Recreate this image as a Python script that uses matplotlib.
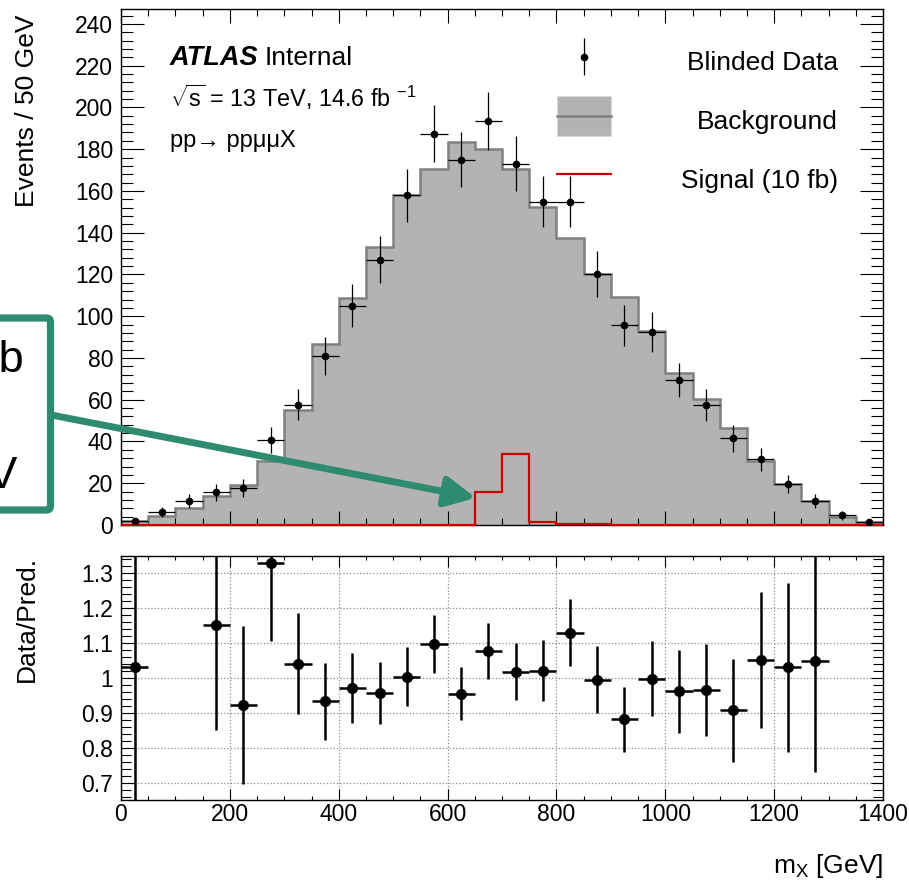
import numpy as np
import matplotlib
matplotlib.use("Agg")
from matplotlib import pyplot as plt
from matplotlib.patches import FancyBboxPatch, Rectangle
from matplotlib.ticker import MultipleLocator, FuncFormatter

plt.rcParams['font.family'] = ['Liberation Sans', 'DejaVu Sans']
plt.rcParams['mathtext.fontset'] = 'custom'
plt.rcParams['mathtext.rm'] = 'Liberation Sans'
plt.rcParams['mathtext.it'] = 'Liberation Sans:italic'
plt.rcParams['mathtext.bf'] = 'Liberation Sans:bold'

# m_X binning, 50 GeV bins
bin_edges = np.arange(0, 1401, 50)

background = [2.0, 4.5, 8.3, 13.9, 19.3, 30.8, 55.3, 86.9, 108.5, 133.2,
              158.2, 170.7, 183.4, 180.0, 170.7, 152.3, 137.6, 120.1, 109.2, 92.8,
              73.0, 60.3, 46.3, 30.6, 19.5, 11.5, 3.7, 1.4]
signal = [0, 0, 0, 0, 0, 0, 0, 0, 0, 0, 0, 0, 0, 16.0,
          34.0, 1.3, 0.35, 0.35, 0, 0, 0, 0, 0, 0, 0, 0, 0, 0]
data = [1.8, 6.0, 11.5, 15.6, 17.6, 40.7, 57.7, 80.9, 105.1, 127.1,
        157.9, 187.4, 175.0, 193.3, 173.0, 154.9, 154.9, 120.1, 95.7, 92.5,
        69.5, 57.6, 41.6, 31.4, 19.6, 11.5, 4.6, 1.4]
data_err = [1.3, 2.4, 3.4, 3.9, 4.2, 6.4, 7.6, 9.0, 10.3, 11.3,
            12.6, 13.7, 13.2, 13.9, 13.2, 12.4, 12.4, 11.0, 9.8, 9.6,
            8.3, 7.6, 6.4, 5.6, 4.4, 3.4, 2.1, 1.2]

nan = np.nan
ratio = [1.03, nan, nan, 1.152, 0.922, 1.329, 1.041, 0.933, 0.971, 0.957,
         1.003, 1.098, 0.955, 1.076, 1.018, 1.021, 1.129, 0.995, 0.881, 0.998,
         0.962, 0.965, 0.907, 1.052, 1.030, 1.047, nan, nan]
ratio_err = [1.5, nan, nan, 0.30, 0.226, 0.224, 0.144, 0.11, 0.10, 0.088,
             0.084, 0.083, 0.076, 0.08, 0.082, 0.087, 0.096, 0.095, 0.093, 0.108,
             0.119, 0.133, 0.147, 0.195, 0.242, 0.317, nan, nan]

centers = 0.5 * (bin_edges[1:] + bin_edges[:-1])
half_width = 0.5 * np.diff(bin_edges)

W, H = 909, 881
fig = plt.figure(figsize=(W / 100, H / 100), dpi=100)
fig.patch.set_facecolor('white')


def px_box(left, top, right, bottom):
    return [left / W, 1 - bottom / H, (right - left) / W, (bottom - top) / H]


ax = fig.add_axes(px_box(121, 9.3, 883, 525))
ax2 = fig.add_axes(px_box(121, 555.7, 883, 800))

# main panel
ax.stairs(background, bin_edges, fill=True, color='#b3b3b3', zorder=1)
ax.stairs(background, bin_edges, color='#808080', lw=1.8, zorder=1.6)
ax.stairs(signal, bin_edges, color='#cc0000', lw=1.6, zorder=3, clip_on=False)
ax.errorbar(centers, data, yerr=data_err, xerr=half_width, fmt='o', ms=4.5,
            color='black', elinewidth=0.9, capsize=0, zorder=4)

# ratio panel
ax2.errorbar(centers, ratio, yerr=ratio_err, xerr=half_width, fmt='o', ms=7,
             color='black', elinewidth=1.8, capsize=0, zorder=4)
ax2.grid(True, which='major', linestyle=':', color='#8c8c8c', lw=0.9)

for a in (ax, ax2):
    a.set_xlim(0, 1400)
    a.xaxis.set_major_locator(MultipleLocator(200))
    a.xaxis.set_minor_locator(MultipleLocator(50))
    a.tick_params(which='both', direction='in', top=True, right=True,
                  width=0.8, labelsize=16.5)
    for s in a.spines.values():
        s.set_linewidth(1.0)

ax.set_ylim(0, 247)
ax.yaxis.set_major_locator(MultipleLocator(20))
ax.yaxis.set_minor_locator(MultipleLocator(4))
ax.tick_params(axis='y', which='major', length=16.5, pad=5.5)
ax.tick_params(axis='y', which='minor', length=8.5)
ax.tick_params(axis='x', which='major', length=10, labelbottom=False)
ax.tick_params(axis='x', which='minor', length=5)

ax2.set_ylim(0.65, 1.35)
ax2.yaxis.set_major_locator(MultipleLocator(0.1))
ax2.yaxis.set_minor_locator(MultipleLocator(0.02))
ax2.yaxis.set_major_formatter(FuncFormatter(lambda v, p: '%g' % round(v, 2)))
ax2.tick_params(axis='y', which='major', length=9, pad=5.5)
ax2.tick_params(axis='y', which='minor', length=7.5)
ax2.tick_params(axis='x', which='major', length=8, pad=2)
ax2.tick_params(axis='x', which='minor', length=2.8)

ax.set_ylabel('Events / 50 GeV', fontsize=19, loc='top')
ax.yaxis.set_label_coords(-0.108, 0.99)
ax2.set_ylabel('Data/Pred.', fontsize=19, loc='top')
ax2.yaxis.set_label_coords(-0.108, 1.0)
ax2.set_xlabel(r'$\mathrm{m_{X}}$ [GeV]', fontsize=19, loc='right')
ax2.xaxis.set_label_coords(1.0, -0.212)

# overlay in pixel coordinates for labels, legend and the annotation
ov = fig.add_axes([0, 0, 1, 1], facecolor='none')
ov.set_xlim(0, W)
ov.set_ylim(H, 0)
ov.axis('off')

ov.text(170, 65, 'ATLAS', fontsize=19.5, fontweight='bold', fontstyle='italic', va='baseline')
ov.text(265, 65, 'Internal', fontsize=19, va='baseline')
ov.text(170, 106.7, r'$\sqrt{\mathrm{s}}$ = 13 TeV, 14.6 fb $^{-1}$', fontsize=16.8, va='baseline')
ov.text(170, 146.5, 'pp\u2192 pp\u03bc\u03bcX', fontsize=17, va='baseline')

# legend
ov.errorbar([584], [56.7], yerr=[18.5], fmt='o', ms=4.5, color='black',
            elinewidth=0.9, capsize=0)
ov.add_patch(Rectangle((556.7, 96), 54, 40, facecolor='#b3b3b3',
                       edgecolor='#d9d9d9', lw=0.8))
ov.plot([556.7, 610.7], [115.7, 115.7], color='#808080', lw=1.8)
ov.plot([556.7, 611.3], [174.3, 174.3], color='#cc0000', lw=1.6)
ov.text(838, 70, 'Blinded Data', fontsize=19, ha='right', va='baseline')
ov.text(838, 128.5, 'Background', fontsize=19, ha='right', va='baseline')
ov.text(838, 188, 'Signal (10 fb)', fontsize=19, ha='right', va='baseline')

# green callout, cut off at the left edge as in the original
green = '#2e8b6f'
ov.add_patch(FancyBboxPatch((-300, 318), 350.5, 192,
                            boxstyle='round,pad=0,rounding_size=4',
                            fill=False, edgecolor=green, lw=5.2))
ov.text(24, 372, 'fb', fontsize=32.5, ha='right', va='baseline')
ov.text(18.5, 488, 'GeV', fontsize=32.5, ha='right', va='baseline')
ov.annotate('', xy=(652, 13), xycoords=ax.transData,
            xytext=(54, 415.5), textcoords='data',
            arrowprops=dict(arrowstyle='-|>,head_length=0.9,head_width=0.45',
                            mutation_scale=20, color=green, lw=5,
                            shrinkA=0, shrinkB=0))

fig.savefig('out.png', dpi=100)
